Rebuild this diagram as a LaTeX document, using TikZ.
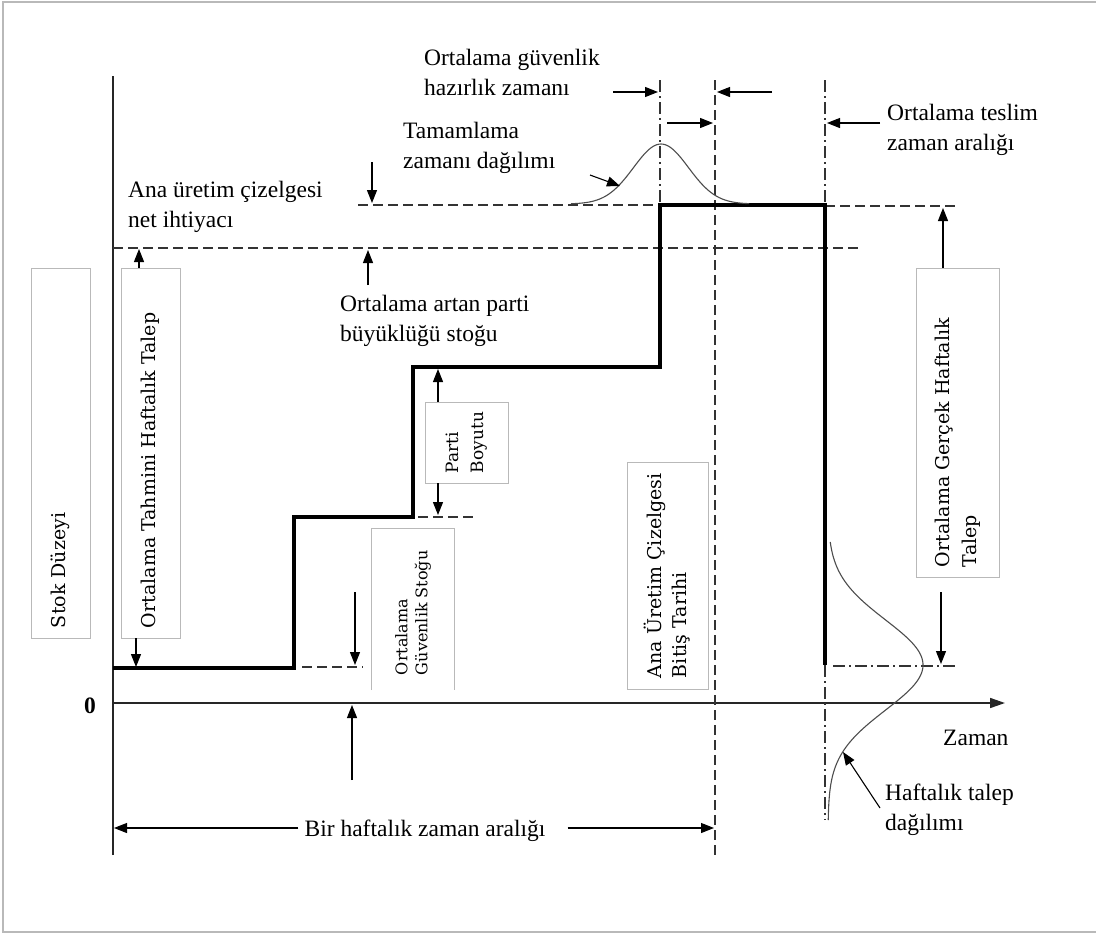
\documentclass[tikz,border=0pt]{standalone}
\usepackage{fontspec}
\usepackage{graphicx}
\setmainfont{Liberation Serif}
\newfontfamily\boxfont{DejaVu Serif}
\usetikzlibrary{arrows.meta}

% vertical (rotated) label set in a box of the given length
\newcommand\vlabel[2]{\rotatebox{90}{\parbox{#1}{\raggedright #2}}}

\begin{document}
\begin{tikzpicture}[x=1pt,y=-1pt,
  lbl/.style={font=\fontsize{23.5}{30}\selectfont, inner sep=0pt, align=left, anchor=base west},
  gbox/.style={draw=gray!55, line width=0.9pt, inner sep=0pt, fill=white},
  axis/.style={line width=1.6pt, black!85},
  stairs/.style={line width=3.2pt, black, line join=miter},
  dashline/.style={line width=1.3pt, black!80, dash pattern=on 10pt off 5pt},
  dotdash/.style={line width=1.3pt, black!80, dash pattern=on 12pt off 4pt on 2pt off 4pt},
  arr/.style={line width=1.1pt, black, -{Triangle[length=13pt,width=10pt]}},
  bell/.style={line width=1.1pt, black!70, smooth},
]
\useasboundingbox (0,0) rectangle (1096,935);

% outer frame
\draw[gray!55, line width=1.2pt] (1096,2) -- (3,2) -- (3,932) -- (1096,932);

% axes
\coordinate (O) at (113,703);
\coordinate (ytop) at (113,76);
\coordinate (ybot) at (113,855);
\coordinate (xend) at (1005,703);
\draw[axis] (ybot) -- (ytop);
\draw[axis, -{Triangle[length=15pt,width=10pt]}] (O) -- (xend);
\node[lbl, font=\fontsize{23.5}{30}\selectfont\bfseries] (zero) at (84,713) {0};
\node[lbl] (zaman) at (943,745) {Zaman};

% guide lines
\draw[dashline] (113,248) -- (858,248);
\draw[dashline] (358,205) -- (660,205);
\draw[dashline] (825,206) -- (957,206);
\draw[dashline] (418,517) -- (477,517);
\draw[dashline] (302,667) -- (363,667);
\draw[dotdash] (833,666) -- (957,666);
\draw[dotdash] (660,80) -- (660,205);
\draw[dashline] (715,80) -- (715,855);
\draw[dotdash] (825,80) -- (825,205);
\draw[dotdash] (825,665) -- (825,820);

% stock level staircase
\coordinate (s0) at (113,668);
\coordinate (s1) at (294,517);
\coordinate (s2) at (413,367);
\coordinate (s3) at (660,205);
\coordinate (s4) at (825,665);
\draw[stairs] (s0) -| (s1) -| (s2) -| (s3) -| (s4);

% distributions
\draw[bell] plot[domain=571:749, samples=90] (\x, {204-60*exp(-0.5*((\x-661)/27.5)^2)});
\draw[bell] plot[domain=542:820, samples=120] ({828+95*exp(-0.5*((\x-665)/45)^2)}, \x);

% boxed vertical labels
\node[gbox, minimum width=59pt, minimum height=370pt] (sd) at (60.5,453)
  {\boxfont\fontsize{19}{26}\selectfont\vlabel{350pt}{Stok Düzeyi}};
\node[gbox, minimum width=59pt, minimum height=370pt] (tah) at (150.5,453)
  {\boxfont\fontsize{19}{26}\selectfont\vlabel{350pt}{Ortalama Tahmini Haftalık Talep}};
\node[gbox, minimum width=83pt, minimum height=81pt] (pb) at (466.5,442.5)
  {\boxfont\fontsize{17}{25}\selectfont\vlabel{61pt}{\mbox{Parti}\\\mbox{Boyutu}}};
\node[inner sep=0pt, minimum width=82pt, minimum height=161pt, fill=white] (gs) at (413,609.5)
  {\boxfont\fontsize{16}{20}\selectfont\vlabel{131pt}{\mbox{Ortalama}\\\mbox{Güvenlik Stoğu}}};
\draw[draw=gray!55, line width=0.9pt] (gs.south west) |- (gs.north east) -- (gs.south east);
\node[gbox, minimum width=81pt, minimum height=227pt] (au) at (667.5,575.5)
  {\boxfont\fontsize{19}{25}\selectfont\vlabel{205pt}{\mbox{Ana Üretim Çizelgesi}\\\mbox{Bitiş Tarihi}}};
\node[gbox, minimum width=83pt, minimum height=309pt] (og) at (957.5,422.5)
  {\boxfont\fontsize{19}{27}\selectfont\vlabel{289pt}{\mbox{Ortalama Gerçek Haftalık}\\\mbox{Talep}}};

% horizontal labels (anchored at the baseline of their last line)
\node[lbl] (ogh) at (424,95) {Ortalama güvenlik\\hazırlık zamanı};
\node[lbl] (tzd) at (403,168) {Tamamlama\\zamanı dağılımı};
\node[lbl] (auc) at (128,227) {Ana üretim çizelgesi\\net ihtiyacı};
\node[lbl] (oap) at (340,341) {Ortalama artan parti\\büyüklüğü stoğu};
\node[lbl] (otz) at (887,150) {Ortalama teslim\\zaman aralığı};
\node[lbl] (htd) at (885,830) {Haftalık talep\\dağılımı};
\node[lbl, anchor=base] (bhz) at (425,836) {Bir haftalık zaman aralığı};

% arrow end points
\coordinate (a1) at (658,92);
\coordinate (a1s) at (613,92);
\coordinate (a2) at (717,92);
\coordinate (a2s) at (772,92);
\coordinate (a3) at (713,123);
\coordinate (a3s) at (667,123);
\coordinate (a4) at (827,123);
\coordinate (a4s) at (880,123);
\coordinate (a5) at (620,186);
\coordinate (a5s) at (590,175);
\coordinate (a6) at (372,203);
\coordinate (a6s) at (372,162);
\coordinate (a7) at (139,249);
\coordinate (a8) at (136,667);
\coordinate (a9) at (368,250);
\coordinate (a9s) at (368,285);
\coordinate (a10) at (438,369);
\coordinate (a11) at (438,515);
\coordinate (a12) at (355,665);
\coordinate (a12s) at (355,592);
\coordinate (a13) at (352,705);
\coordinate (a13s) at (352,780);
\coordinate (a14) at (943,208);
\coordinate (a15) at (941,664);
\coordinate (a15s) at (941,592);
\coordinate (a16) at (843,752);
\coordinate (a16s) at (880,808);
\coordinate (a17) at (114,828);
\coordinate (a18) at (714,828);

% arrows
\draw[arr] (a1s) -- (a1);
\draw[arr] (a2s) -- (a2);
\draw[arr] (a3s) -- (a3);
\draw[arr] (a4s) -- (a4);
\draw[arr] (a5s) -- (a5);
\draw[arr] (a6s) -- (a6);
\draw[arr] (tah.north -| a7) -- (a7);
\draw[arr] (tah.south -| a8) -- (a8);
\draw[arr] (a9s) -- (a9);
\draw[arr] (pb.north -| a10) -- (a10);
\draw[arr] (pb.south -| a11) -- (a11);
\draw[arr] (a12s) -- (a12);
\draw[arr] (a13s) -- (a13);
\draw[arr] (og.north -| a14) -- (a14);
\draw[arr] (a15s) -- (a15);
\draw[arr] (a16s) -- (a16);
\draw[arr] ([xshift=-6pt]bhz.west |- a17) -- (a17);
\draw[arr] ([xshift=22pt]bhz.east |- a18) -- (a18);
\end{tikzpicture}
\end{document}
